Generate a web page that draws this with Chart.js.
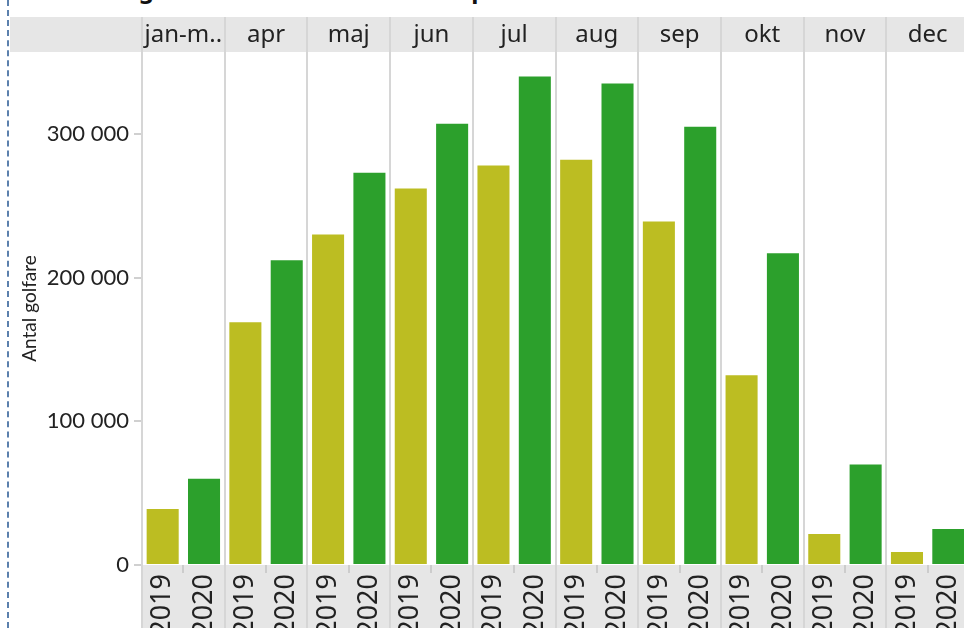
<!DOCTYPE html>
<html>
<head>
<meta charset="utf-8">
<script src="https://cdn.jsdelivr.net/npm/chart.js@4"></script>
<style>
html, body { margin: 0; padding: 0; background: #fff; overflow: hidden; width: 964px; height: 628px; }
#wrap { position: absolute; left: 0; top: 0; width: 969px; height: 628px; }
#dash { position: absolute; left: 7px; top: 0; height: 628px; border-left: 2px dashed #5b80ad; }
#title { position: absolute; left: 25px; top: -23px; font: bold 24px "Noto Sans", sans-serif; line-height: 1; white-space: nowrap; word-spacing: -5px; color: #111; }
</style>
</head>
<body>
<div id="title">Utveckling av antal aktiva medlemmar per månad</div>
<div id="dash"></div>
<div id="wrap"><canvas id="chart" width="969" height="628"></canvas></div>
<script>
// values
var months = ['jan-m..', 'apr', 'maj', 'jun', 'jul', 'aug', 'sep', 'okt', 'nov', 'dec'];
var years = ['2019', '2020'];
var golfare2019 = [39000, 169000, 230000, 262000, 278000, 282000, 239000, 132000, 21500, 9000];
var golfare2020 = [60000, 212000, 273000, 307000, 340000, 335000, 305000, 217000, 70000, 25000];
var yTicks = [0, 100000, 200000, 300000];
var yMax = 357000;

var labels = [];
var values = [];
months.forEach(function (m, i) {
    labels.push(years[0], years[1]);
    values.push(golfare2019[i], golfare2020[i]);
});

var sepColor = '#d6d6d6';

var panels = {
    id: 'panels',
    beforeDraw: function (chart) {
        var ctx = chart.ctx, area = chart.chartArea;
        ctx.save();
        ctx.fillStyle = '#e6e6e6';
        ctx.fillRect(10, 17, chart.width - 10, area.top - 17);
        ctx.fillRect(area.left, area.bottom, chart.width - area.left, chart.height - area.bottom);
        ctx.restore();
    },
    beforeDatasetsDraw: function (chart) {
        var ctx = chart.ctx, x = chart.scales.x;
        var half = (x.getPixelForValue(1) - x.getPixelForValue(0)) / 2;
        ctx.save();
        ctx.strokeStyle = sepColor;
        ctx.lineWidth = 2;
        for (var i = 0; i <= months.length; i++) {
            var px = Math.round(x.getPixelForValue(i * 2) - half);
            ctx.beginPath();
            ctx.moveTo(px, 17);
            ctx.lineTo(px, chart.height);
            ctx.stroke();
        }
        ctx.restore();
    },
    afterDraw: function (chart) {
        var ctx = chart.ctx, x = chart.scales.x, area = chart.chartArea;
        ctx.save();
        ctx.fillStyle = '#222';
        ctx.font = '24px "Noto Sans"';
        ctx.textAlign = 'center';
        ctx.textBaseline = 'middle';
        months.forEach(function (m, i) {
            var cx = (x.getPixelForValue(i * 2) + x.getPixelForValue(i * 2 + 1)) / 2;
            ctx.fillText(m, cx, (17 + area.top) / 2 + 1);
        });
        ctx.restore();
    }
};

new Chart(document.getElementById('chart').getContext('2d'), {
    type: 'bar',
    data: {
        labels: labels,
        datasets: [{
            label: 'Antal golfare',
            data: values,
            backgroundColor: function (c) { return c.dataIndex % 2 ? '#2ca02c' : '#bcbd22'; },
            barPercentage: 0.775,
            categoryPercentage: 1
        }]
    },
    options: {
        responsive: false,
        animation: false,
        layout: { padding: { top: 52, right: 0, left: 0, bottom: 0 } },
        plugins: { legend: { display: false }, tooltip: { enabled: false } },
        scales: {
            x: {
                offset: true,
                afterFit: function (s) {
                    s.height = 63;
                    s.paddingLeft = 0;
                    s.paddingRight = 0;
                },
                border: { display: false },
                grid: {
                    offset: true,
                    drawOnChartArea: false,
                    tickLength: 8,
                    lineWidth: 2,
                    color: function (c) { return c.index % 2 ? '#cccccc' : 'transparent'; }
                },
                ticks: {
                    autoSkip: false,
                    minRotation: 90,
                    maxRotation: 90,
                    padding: 1,
                    color: '#222',
                    font: { family: 'Noto Sans', size: 27 }
                }
            },
            y: {
                min: 0,
                max: yMax,
                afterFit: function (s) { s.width = 142; },
                afterBuildTicks: function (s) { s.ticks = yTicks.map(function (v) { return { value: v }; }); },
                border: { display: false },
                grid: { drawOnChartArea: false, tickLength: 8, lineWidth: 2, color: '#d0d0d0' },
                ticks: {
                    padding: 5,
                    color: '#222',
                    font: { family: 'Lato', size: 22, weight: 400 },
                    callback: function (v) { return String(v).replace(/\B(?=(\d{3})+(?!\d))/g, ' '); }
                },
                title: {
                    display: true,
                    text: 'Antal golfare',
                    color: '#222',
                    padding: { top: 18, bottom: 0 },
                    font: { family: 'Lato', size: 19, weight: 400 }
                }
            }
        }
    },
    plugins: [panels]
});
</script>
</body>
</html>
